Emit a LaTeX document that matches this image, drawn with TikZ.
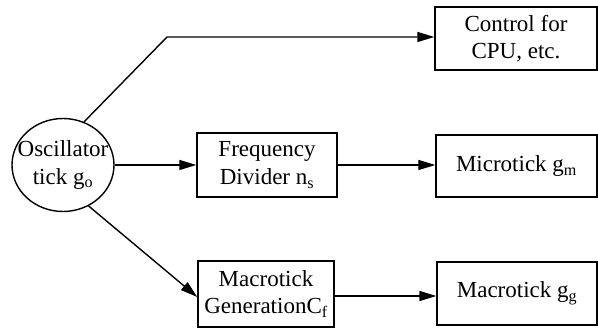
\documentclass[tikz,border=0pt]{standalone}
\usepackage{fontspec}
\setmainfont{Liberation Serif}
\usetikzlibrary{arrows.meta,shapes.geometric}

\tikzset{
  label text/.style={font=\fontsize{23}{27.5}\selectfont, align=center, inner sep=0pt},
  block/.style={draw, line width=1.4pt, rectangle, label text},
  osc/.style={draw, line width=1.4pt, ellipse, inner sep=0pt},
  link/.style={line width=1.4pt, -{Triangle[length=17pt,width=10pt]}}
}

\begin{document}
\begin{tikzpicture}[x=1pt, y=-1pt]
  \useasboundingbox (0,0) rectangle (598,328);

  % oscillator source: the outline is sized by hand, the text sits on top
  \node[osc, minimum width=102pt, minimum height=93pt] (osc) at (63,165) {};
  \node[label text] (osctext) at (osc.center) {Oscillator\\tick g\textsubscript{o}};

  % intermediate stages
  \node[block, minimum width=140pt, minimum height=64pt] (freq) at (267,165)
    {Frequency\\Divider n\textsubscript{s}};
  \node[block, minimum width=136pt, minimum height=66pt] (mgen) at (266,294)
    {Macrotick\\GenerationC\textsubscript{f}};

  % outputs
  \node[block, minimum width=162pt, minimum height=63pt] (ctrl) at (516,38.5)
    {Control for\\CPU, etc.};
  \node[block, minimum width=161pt, minimum height=62pt] (micro) at (516.5,166)
    {Microtick g\textsubscript{m}};
  \node[block, minimum width=160pt, minimum height=63pt] (macro) at (517,293.5)
    {Macrotick g\textsubscript{g}};

  \coordinate (bend) at (167,37);

  % connectors
  \draw[link] (osc.64) -- (bend) -- (bend -| ctrl.west);
  \draw[link] (osc.east) -- (freq.west);
  \draw[link] (osc.-58) -- ([yshift=-3pt]mgen.west);
  \draw[link] (freq.east) -- (freq.east -| micro.west);
  \draw[link] ([yshift=-2pt]mgen.east) -- ([yshift=-2pt]mgen.east -| macro.west);
\end{tikzpicture}
\end{document}
